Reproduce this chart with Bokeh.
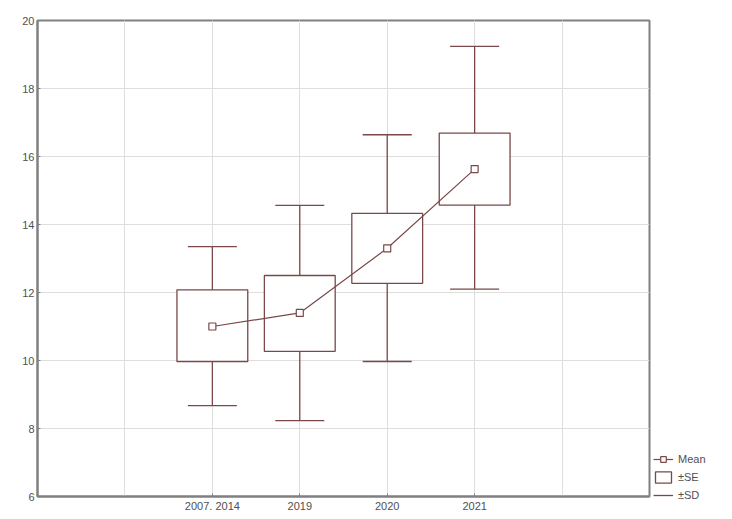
from bokeh.plotting import figure
from bokeh.models import FixedTicker, Legend, LegendItem, Range1d, ColumnDataSource
from bokeh.embed import file_html
from bokeh.resources import INLINE

categories = ["2007. 2014", "2019", "2020", "2021"]
means = [11.0, 11.4, 13.3, 15.63]
se_low = [9.97, 10.27, 12.27, 14.57]
se_high = [12.08, 12.5, 14.33, 16.69]
sd_low = [8.67, 8.23, 9.97, 12.1]
sd_high = [13.35, 14.56, 16.64, 19.24]
y_ticks = [6, 8, 10, 12, 14, 16, 18, 20]

xs = list(range(1, len(categories) + 1))
src = ColumnDataSource(dict(x=xs, mean=means, se_lo=se_low, se_hi=se_high,
                            sd_lo=sd_low, sd_hi=sd_high))

LC = "#7a4848"
FONT = "Liberation Sans"

p = figure(frame_width=612, frame_height=476, output_backend="svg", toolbar_location=None,
           x_range=Range1d(-1, len(categories) + 2), y_range=Range1d(6, 20),
           min_border_left=37, min_border_top=20, min_border_bottom=23, min_border_right=0)
p.background_fill_color = "white"
p.border_fill_color = "white"
p.outline_line_color = "#808080"
p.outline_line_width = 2

p.xaxis.ticker = FixedTicker(ticks=xs)
p.xaxis.major_label_overrides = {x: c for x, c in zip(xs, categories)}
p.yaxis.ticker = FixedTicker(ticks=y_ticks)
p.xgrid.ticker = FixedTicker(ticks=list(range(0, len(categories) + 2)))
p.ygrid.ticker = FixedTicker(ticks=y_ticks)
for g in (p.xgrid, p.ygrid):
    g.grid_line_color = "#dedede"
    g.grid_line_width = 1
for ax in (p.xaxis, p.yaxis):
    ax.axis_line_color = "#808080"
    ax.axis_line_width = 2
    ax.major_tick_in = 3
    ax.major_tick_out = 0
    ax.major_tick_line_color = "#808080"
    ax.minor_tick_line_color = None
    ax.major_label_text_font = FONT
    ax.major_label_text_font_size = "11px"
    ax.major_label_text_color = "#505050"
    ax.major_label_standoff = 3

# SD whiskers
sd_r = p.segment(x0="x", y0="sd_lo", x1="x", y1="sd_hi", source=src, line_color=LC, line_width=1.3)
p.scatter("x", "sd_hi", source=src, marker="dash", size=49, line_color=LC, line_width=1.3)
sd_cap = p.scatter("x", "sd_lo", source=src, marker="dash", size=49, line_color=LC, line_width=1.3)

# SE boxes
se_r = p.vbar(x="x", bottom="se_lo", top="se_hi", width=0.81, source=src,
              fill_color="white", line_color=LC, line_width=1.3)

# Mean
mean_l = p.line("x", "mean", source=src, line_color=LC, line_width=1.2)
mean_s = p.scatter("x", "mean", source=src, marker="square", size=7,
                   fill_color="white", line_color=LC, line_width=1.2)

legend = Legend(items=[LegendItem(label="Mean", renderers=[mean_l, mean_s]),
                       LegendItem(label="±SE", renderers=[se_r]),
                       LegendItem(label="±SD", renderers=[sd_r])],
                location=(4, -6), border_line_color=None, background_fill_alpha=0,
                label_text_font=FONT, label_text_font_size="11px", label_text_color="#505050",
                glyph_width=20, glyph_height=14, spacing=4, padding=0, margin=0,
                label_standoff=5, label_height=14)
p.add_layout(legend, "right")

open("out.html", "w").write(file_html(p, INLINE))
